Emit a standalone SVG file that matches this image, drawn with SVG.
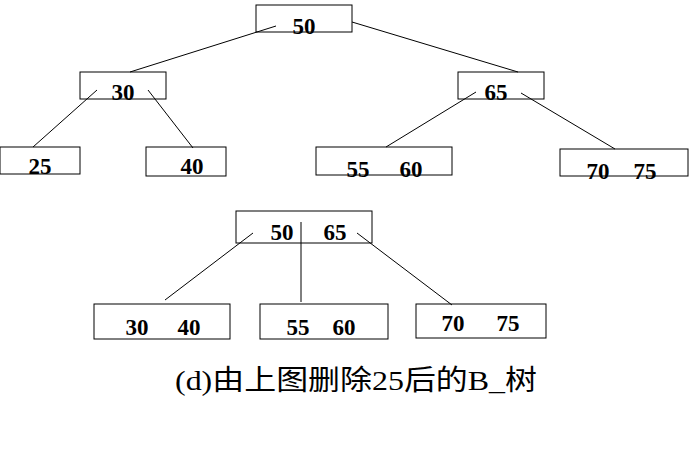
<svg xmlns="http://www.w3.org/2000/svg" width="689" height="450" viewBox="0 0 689 450">
<style>
rect{fill:#fff;stroke:#000;stroke-width:1}
line{stroke:#000;stroke-width:1}
.k{font-family:"Liberation Serif","Noto Sans CJK SC",serif;font-weight:bold;font-size:23px;text-anchor:middle}
.c{font-family:"Liberation Serif","Noto Sans CJK SC",serif;font-size:28px}
</style>
<rect width="689" height="450" style="stroke:none"/>
<g id="n50"><rect x="256" y="5" width="96" height="27"/><text class="k" x="304" y="34">50</text></g>
<g id="n30"><rect x="80" y="72" width="86" height="27"/><text class="k" x="123" y="100">30</text></g>
<g id="n65"><rect x="458" y="72" width="86" height="27"/><text class="k" x="496" y="100">65</text></g>
<g id="n25"><rect x="0" y="147" width="80" height="27"/><text class="k" x="40" y="174">25</text></g>
<g id="n40"><rect x="146" y="147" width="80" height="29"/><text class="k" x="192" y="174">40</text></g>
<g id="n5560"><rect x="316" y="147" width="136" height="28"/><text class="k" x="358" y="177">55</text><text class="k" x="411" y="177">60</text></g>
<g id="n7075"><rect x="560" y="149" width="128" height="27"/><text class="k" x="598" y="179">70</text><text class="k" x="645" y="179">75</text></g>
<g id="m5065"><rect x="236" y="211" width="136" height="32"/><text class="k" x="282" y="240">50</text><text class="k" x="335" y="240">65</text></g>
<g id="m3040"><rect x="94" y="304" width="136" height="35"/><text class="k" x="137" y="335">30</text><text class="k" x="189" y="335">40</text></g>
<g id="m5560"><rect x="260" y="304" width="128" height="35"/><text class="k" x="298" y="335">55</text><text class="k" x="344" y="335">60</text></g>
<g id="m7075"><rect x="416" y="304" width="130" height="34"/><text class="k" x="453" y="331">70</text><text class="k" x="508" y="331">75</text></g>
<g id="connectors">
<line x1="276" y1="26" x2="130" y2="72"/>
<line x1="352" y1="22" x2="518" y2="72"/>
<line x1="97" y1="90" x2="33" y2="147"/>
<line x1="148" y1="90" x2="193" y2="148"/>
<line x1="476" y1="92" x2="386" y2="147"/>
<line x1="521" y1="93" x2="615" y2="149"/>
<line x1="253" y1="233" x2="165" y2="300"/>
<line x1="301" y1="222" x2="301" y2="302"/>
<line x1="357" y1="233" x2="452" y2="305"/>
</g>
<text class="c" x="175" y="390" textLength="362" lengthAdjust="spacingAndGlyphs">(d)由上图删除25后的B_树</text>
</svg>
